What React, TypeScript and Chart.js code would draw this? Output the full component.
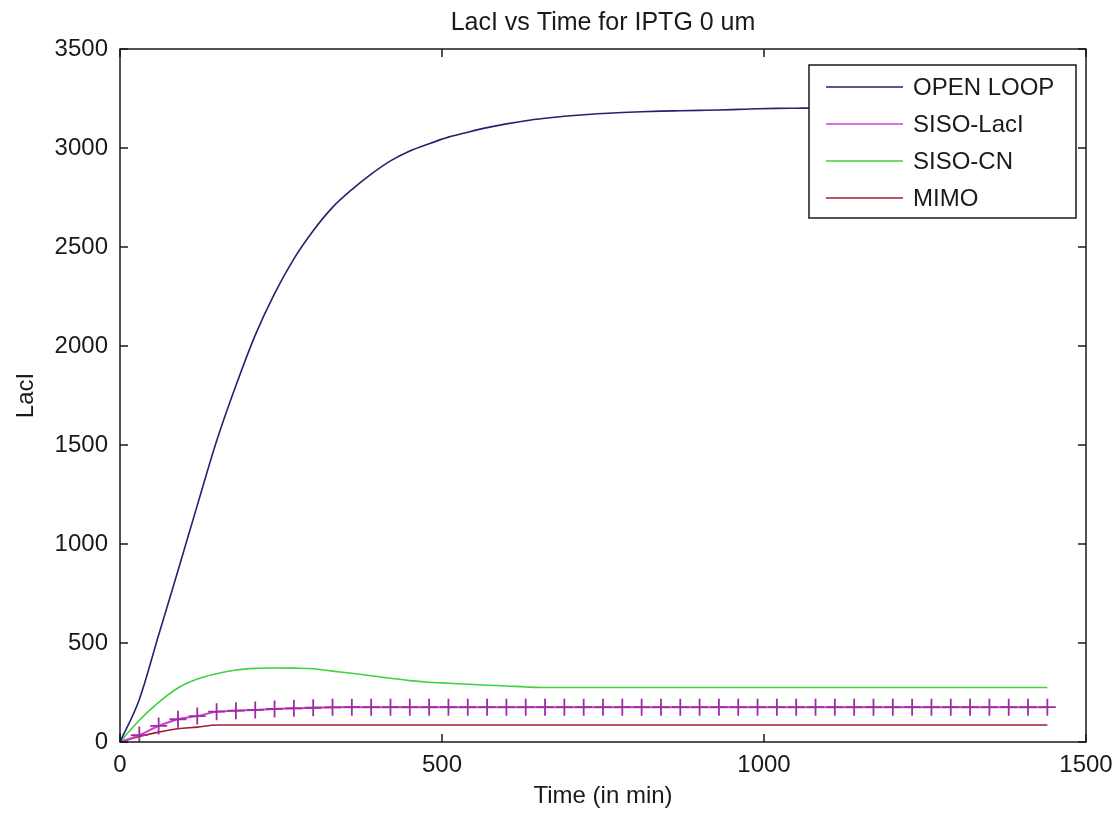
import React, { useEffect, useRef } from "react";
import { Chart, registerables } from "chart.js";

Chart.register(...registerables);

const TITLE = "LacI vs Time for IPTG 0 um";
const X_TITLE = "Time (in min)";
const Y_TITLE = "LacI";

const timeMin = [
  0, 30, 60, 90, 120, 150, 180, 210, 240, 270, 300, 330, 360, 390, 420, 450, 480,
  510, 540, 570, 600, 630, 660, 690, 720, 750, 780, 810, 840, 870, 900, 930, 960,
  990, 1020, 1050, 1080, 1110, 1140, 1170, 1200, 1230, 1260, 1290, 1320, 1350,
  1380, 1410, 1440,
];

const openLoop = [
  0, 215, 540, 865, 1195, 1520, 1800, 2055, 2265, 2440, 2582, 2700, 2790, 2868,
  2935, 2985, 3022, 3055, 3080, 3103, 3122, 3138, 3150, 3160, 3168, 3174, 3179,
  3183, 3186, 3188, 3190, 3192, 3195, 3198, 3200, 3201, 3202, 3202, 3202, 3202,
  3202, 3202, 3202, 3202, 3202, 3202, 3202, 3202, 3202,
];

const sisoLacI = [
  0, 35, 81, 115, 131, 153, 158, 162, 167, 170, 173, 175, 176, 176, 176, 176,
  176, 176, 176, 176, 176, 176, 176, 176, 176, 176, 176, 176, 176, 176, 176, 176,
  176, 176, 176, 176, 176, 176, 176, 176, 176, 176, 176, 176, 176, 176, 176, 176,
  176,
];

const sisoCN = [
  0, 110, 200, 273, 318, 345, 364, 372, 374, 373, 370, 358, 347, 335, 322, 310,
  302, 297, 292, 287, 283, 278, 275, 275, 275, 275, 275, 275, 275, 275, 275, 275,
  275, 275, 275, 275, 275, 275, 275, 275, 275, 275, 275, 275, 275, 275, 275, 275,
  275,
];

const mimo = [
  0, 28, 50, 67, 75, 86, 86, 86, 86, 86, 86, 86, 86, 86, 86, 86, 86, 86, 86, 86,
  86, 86, 86, 86, 86, 86, 86, 86, 86, 86, 86, 86, 86, 86, 86, 86, 86, 86, 86, 86,
  86, 86, 86, 86, 86, 86, 86, 86, 86,
];

const seriesLabels = ["OPEN LOOP", "SISO-LacI", "SISO-CN", "MIMO"];
const seriesColors = ["#22226e", "#d040d0", "#40d040", "#a01e32"];
const xTicks = [0, 500, 1000, 1500];
const yTicks = [0, 500, 1000, 1500, 2000, 2500, 3000, 3500];

const FONT = "'Liberation Sans', Arial, Helvetica, sans-serif";
const TEXT_COLOR = "#1a1a1a";

const toPts = (ys: number[]) => ys.map((y, i) => ({ x: timeMin[i], y }));

const framePlugin = {
  id: "matlabFrame",
  afterDatasetsDraw(chart: any) {
    const { ctx, chartArea: a, scales } = chart;
    const tl = 8;
    ctx.save();
    ctx.strokeStyle = "#1a1a1a";
    ctx.lineWidth = 1.5;
    ctx.strokeRect(a.left, a.top, a.right - a.left, a.bottom - a.top);
    ctx.beginPath();
    for (const v of xTicks) {
      const px = scales.x.getPixelForValue(v);
      ctx.moveTo(px, a.bottom);
      ctx.lineTo(px, a.bottom - tl);
      ctx.moveTo(px, a.top);
      ctx.lineTo(px, a.top + tl);
    }
    for (const v of yTicks) {
      const py = scales.y.getPixelForValue(v);
      ctx.moveTo(a.left, py);
      ctx.lineTo(a.left + tl, py);
      ctx.moveTo(a.right, py);
      ctx.lineTo(a.right - tl, py);
    }
    ctx.stroke();
    ctx.restore();
  },
};

const legendPlugin = {
  id: "matlabLegend",
  afterDraw(chart: any) {
    const { ctx, chartArea: a } = chart;
    const right = a.right - 10;
    const left = right - 267;
    const top = a.top + 16;
    const rowH = 37;
    const bottom = top + 22 + rowH * 3 + 20;
    ctx.save();
    ctx.fillStyle = "#ffffff";
    ctx.fillRect(left, top, right - left, bottom - top);
    ctx.strokeStyle = "#1a1a1a";
    ctx.lineWidth = 1.5;
    ctx.strokeRect(left, top, right - left, bottom - top);
    ctx.font = `24px ${FONT}`;
    ctx.textBaseline = "middle";
    ctx.textAlign = "left";
    chart.data.datasets.forEach((ds: any, i: number) => {
      const y = top + 22 + rowH * i;
      ctx.strokeStyle = ds.borderColor;
      ctx.lineWidth = 1.5;
      ctx.beginPath();
      ctx.moveTo(left + 17, y);
      ctx.lineTo(left + 94, y);
      ctx.stroke();
      ctx.fillStyle = TEXT_COLOR;
      ctx.fillText(ds.label, left + 104, y + 1);
    });
    ctx.restore();
  },
};

export default function App() {
  const ref = useRef<HTMLCanvasElement>(null);

  useEffect(() => {
    if (!ref.current) return;
    Chart.defaults.font.family = FONT;
    Chart.defaults.color = TEXT_COLOR;
    const allSeries = [openLoop, sisoLacI, sisoCN, mimo];
    const chart = new Chart(ref.current, {
      type: "line",
      data: {
        datasets: allSeries.map((s, i) => ({
          label: seriesLabels[i],
          data: toPts(s),
          borderColor: seriesColors[i],
          backgroundColor: seriesColors[i],
          borderWidth: i === 1 ? 2 : 1.6,
          fill: false,
          cubicInterpolationMode: "monotone" as const,
          pointStyle: i === 1 ? ("cross" as const) : ("circle" as const),
          pointRadius: i === 1 ? 8.5 : 0,
          pointBorderColor: i === 1 ? "#9a2ea2" : seriesColors[i],
          pointBorderWidth: 1.8,
          pointHoverRadius: 0,
        })),
      },
      options: {
        responsive: false,
        animation: false,
        events: [],
        layout: { padding: { left: 0, right: 31, top: 0, bottom: 0 } },
        plugins: {
          legend: { display: false },
          tooltip: { enabled: false },
          title: {
            display: true,
            fullSize: false,
            text: TITLE,
            color: TEXT_COLOR,
            font: { size: 25, weight: "normal", family: FONT, lineHeight: 1.2 },
            padding: { top: 8, bottom: 11 },
          },
        },
        scales: {
          x: {
            type: "linear",
            min: 0,
            max: 1500,
            grid: { display: false, drawTicks: false },
            border: { display: false },
            ticks: {
              stepSize: 500,
              padding: 9,
              maxRotation: 0,
              color: TEXT_COLOR,
              font: { size: 24, family: FONT },
              callback: (v: any) => String(v),
            },
            title: {
              display: true,
              text: X_TITLE,
              color: TEXT_COLOR,
              font: { size: 24, family: FONT, lineHeight: 1.2 },
              padding: { top: 0, bottom: 5 },
            },
            afterFit(scale: any) {
              scale.height = 74;
              scale.paddingRight = 0;
              scale.paddingLeft = 0;
            },
          },
          y: {
            type: "linear",
            min: 0,
            max: 3500,
            grid: { display: false, drawTicks: false },
            border: { display: false },
            ticks: {
              stepSize: 500,
              padding: 12,
              color: TEXT_COLOR,
              font: { size: 24, family: FONT },
              callback: (v: any) => String(v),
            },
            title: {
              display: true,
              text: Y_TITLE,
              color: TEXT_COLOR,
              font: { size: 24, family: FONT, lineHeight: 1.2 },
              padding: { top: 12, bottom: 0 },
            },
            afterFit(scale: any) {
              scale.width = 120;
              scale.paddingTop = 0;
              scale.paddingBottom = 0;
            },
          },
        },
      },
      plugins: [framePlugin, legendPlugin],
    });
    return () => chart.destroy();
  }, []);

  return (
    <div style={{ position: "absolute", left: 0, top: 0, width: 1117, height: 816, background: "#fff" }}>
      <canvas ref={ref} width={1117} height={816} style={{ display: "block" }} />
    </div>
  );
}
